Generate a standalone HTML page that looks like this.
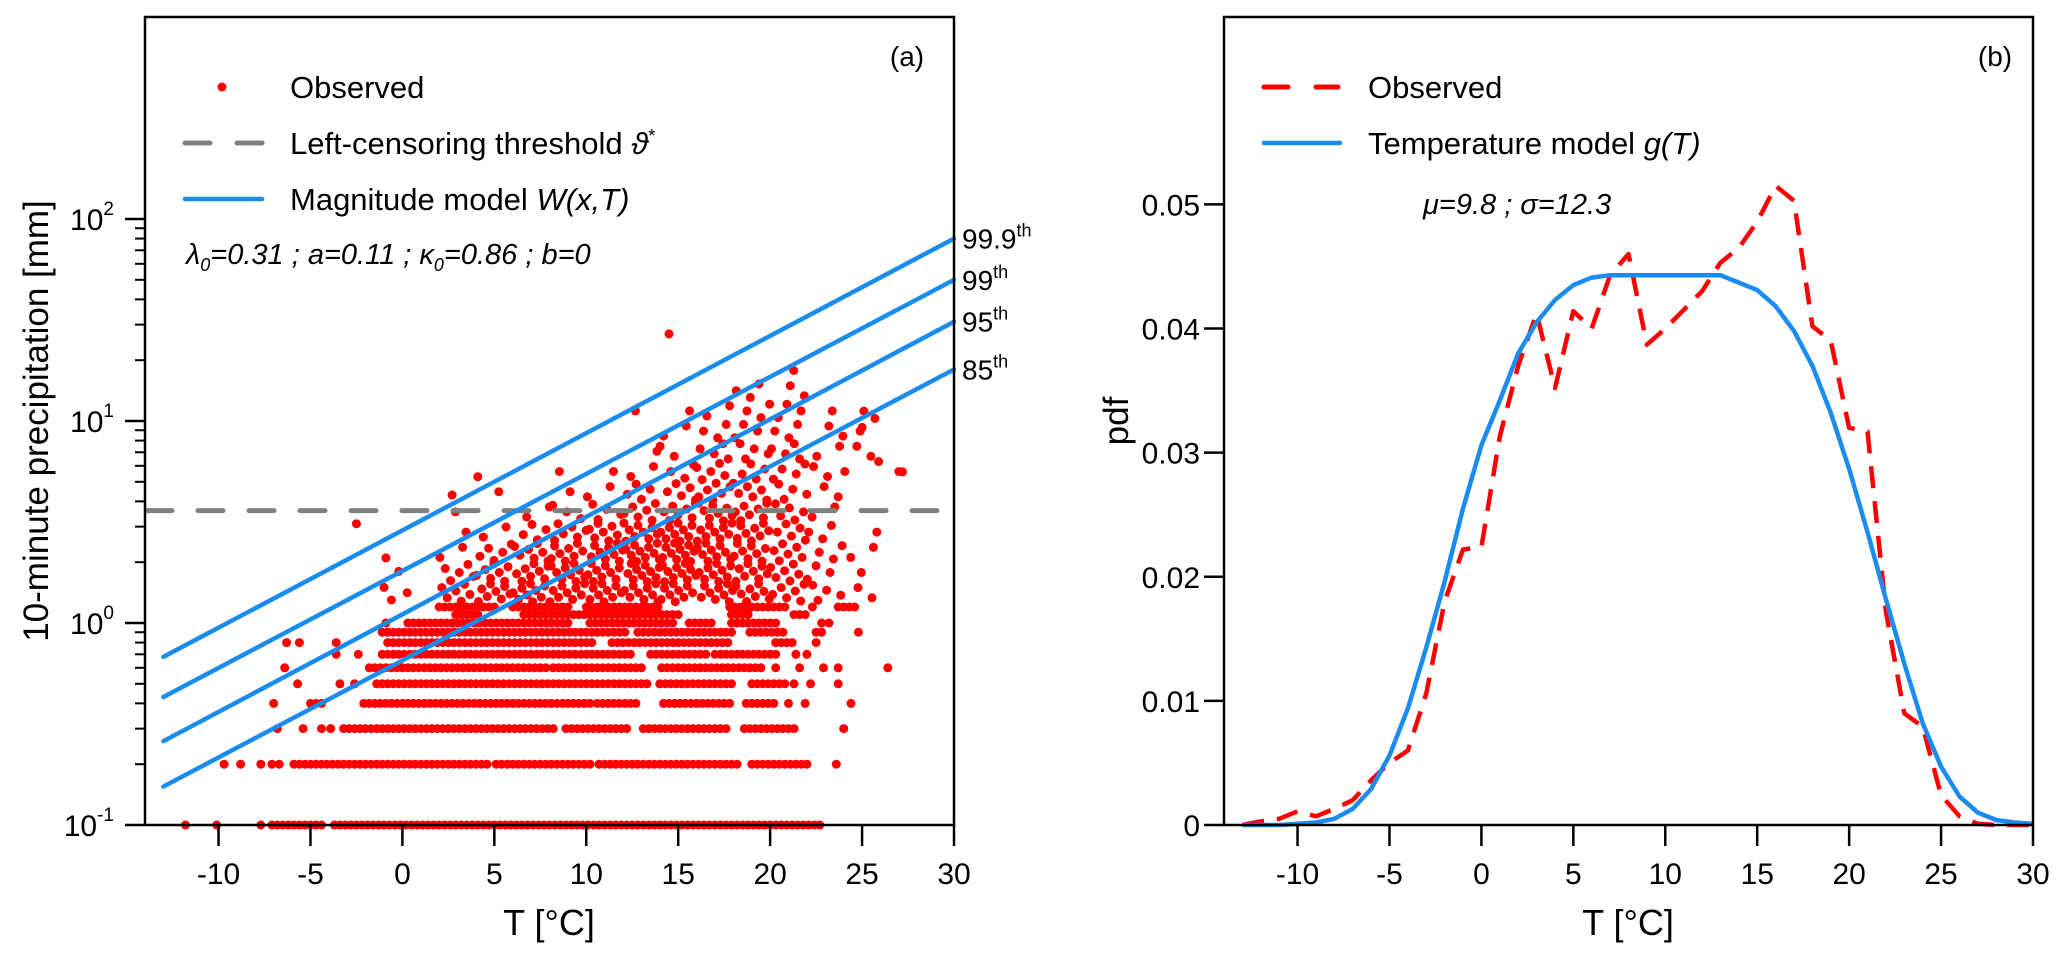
<!DOCTYPE html>
<html><head><meta charset="utf-8"><style>
html,body{margin:0;padding:0;background:#fff;}
svg{display:block;font-family:"Liberation Sans",sans-serif;}
</style></head><body>
<svg id="chart" width="2067" height="958" viewBox="0 0 2067 958" xmlns="http://www.w3.org/2000/svg">
<g id="pa"></g>
<g id="pb"></g>
</svg>
<script>
// ---------- Panel (a) data ----------
const xTicks = [-10,-5,0,5,10,15,20,25,30];
const yDecades = [-1,0,1,2];
const threshold = 3.6;
const pctNames = ["99.9","99","95","85"];
const pctStart = [0.68,0.43,0.26,0.155];   // value at T=-13
const pctEnd = [80,50,31,18];               // value at T=30
const rowValues = [0.1,0.2,0.3,0.4,0.5,0.6,0.7,0.8,0.9,1.0,1.1,1.2];
const rowSegments = [
 [[-11.8,-11.8],[-10.1,-10.1],[-7.7,-7.7],[-7.1,-4.3],[-3.7,22.8]],
 [[-9.7,-9.7],[-8.8,-8.8],[-7.7,-7.7],[-7.1,-7.1],[-6.7,-6.7],[-5.9,4.7],[5.1,10.2],[10.7,18.4],[19,22.1],[23.6,23.6]],
 [[-6.8,-6.8],[-5.4,-5.4],[-4.4,-4.4],[-3.9,-3.9],[-3.2,8.3],[8.9,12.4],[13.1,17.6],[18.6,21.3],[24,24]],
 [[-7,-7],[-5,-4.2],[-2.1,10.2],[10.6,12.8],[14.2,17.9],[18.7,20.3],[21,21],[21.9,21.9],[24.4,24.4]],
 [[-5.7,-5.7],[-3.4,-3.4],[-2.6,-2.6],[-1.4,13.4],[14,17.9],[19,20.8],[21.3,21.3],[22.2,22.2],[23.7,23.7]],
 [[-6.4,-6.4],[-1.8,7.8],[8.2,13],[14.1,19.6],[20.3,20.3],[21.6,21.6],[22.9,22.9],[23.7,23.7],[26.4,26.4]],
 [[-3.6,-3.6],[-2.4,-2.4],[-1.1,12.5],[13.5,16.6],[17,20.3],[21.4,21.4],[22,22]],
 [[-6.3,-6.3],[-5.6,-5.6],[-3.6,-3.6],[-0.8,10.4],[11.4,17.9],[20.3,21.3],[22.5,22.5]],
 [[-1.1,12.3],[12.8,17.9],[18.9,20.8],[22.5,23],[24.8,24.8]],
 [[-0.9,-0.9],[0.3,9],[10.2,14.7],[15.6,16.9],[17.9,20.5],[22.8,22.8],[23.2,23.2]],
 [[2.9,4.3],[6.6,15.2],[17.9,18.9],[21.3,22]],
 [[2,5],[6,9],[10,14.1],[17.8,20.8],[22.3,22.3],[23.7,24.6]]
];
// cloud density (counts) per 2°C column x 0.1 log10 band
const cloudT = [-4,-2,0,2,4,6,8,10,12,14,16,18,20,22,24,26];
const cloudLog = [1.2,1.1,1.0,0.9,0.8,0.7,0.6,0.5,0.4,0.3,0.2,0.1];
const cloudCounts = [
 [0,0,0,0,0,0,0,0,0,0,0,0,1,0,0,0],
 [0,0,0,0,0,0,0,0,0,0,0,3,2,0,0,0],
 [0,0,0,0,0,0,0,0,1,1,2,3,3,1,0,0],
 [0,0,0,0,0,0,0,0,0,2,3,3,3,2,1,0],
 [0,0,0,0,0,0,0,0,1,2,4,4,4,2,2,0],
 [0,0,0,0,0,0,1,1,2,3,5,4,4,2,1,1],
 [0,0,0,0,1,0,1,2,4,5,6,6,4,2,0,0],
 [0,0,0,1,0,2,3,4,6,7,8,7,5,2,0,0],
 [0,0,0,1,2,4,6,7,9,9,9,8,5,3,1,0],
 [0,0,0,2,5,7,8,9,10,10,9,8,6,3,2,0],
 [0,0,0,5,7,8,9,9,10,10,9,8,6,3,1,0],
 [0,0,1,6,8,9,9,9,9,9,9,8,6,4,2,0]
];
const outliers = [[14.5,27],[-2.5,3.1],[-0.9,2.1],[-0.2,1.8],[-1,1.5],[-0.6,1.3],[2.7,4.3],[4.1,5.3],[25.9,6.3],[27.2,5.6],[25,9.3],[25.7,10.3],[25.1,11.2]];

// ---------- Panel (b) data ----------
const pdfT = [-13,-12,-11,-10,-9,-8,-7,-6,-5,-4,-3,-2,-1,0,1,2,3,4,5,6,7,8,9,10,11,12,13,14,15,16,17,18,19,20,21,22,23,24,25,26,27,28,29,30];
const modelPdf = [0,0,0,0.0001,0.0002,0.0005,0.0013,0.0029,0.0056,0.0094,0.0143,0.0196,0.0255,0.0306,0.0342,0.038,0.0405,0.0423,0.0435,0.0441,0.0443,0.0443,0.0443,0.0443,0.0443,0.0443,0.0443,0.0437,0.0431,0.0418,0.0398,0.037,0.0332,0.0287,0.0236,0.0182,0.013,0.0082,0.0047,0.0023,0.001,0.0004,0.0002,0.0001];
const obsPdf = [0,0.0003,0.0005,0.0011,0.0007,0.0013,0.002,0.0036,0.005,0.006,0.0106,0.018,0.0222,0.0224,0.0313,0.037,0.0412,0.0352,0.0414,0.040,0.0443,0.046,0.0387,0.040,0.0415,0.043,0.0453,0.0465,0.0486,0.0515,0.0503,0.0402,0.039,0.032,0.0317,0.0172,0.009,0.0079,0.0024,0.0007,0.0001,0,0,0];
const pdfTicks = [0,0.01,0.02,0.03,0.04,0.05];

// ---------- helpers ----------
const NS="http://www.w3.org/2000/svg";
function mk(parent,tag,attrs,text){const e=document.createElementNS(NS,tag);for(const k in attrs)e.setAttribute(k,attrs[k]);if(text!==undefined)e.textContent=text;parent.appendChild(e);return e;}
const X0=-14,X1=30;
const BOT=825,TOP=17;
function xA(t){return 145+(t-X0)/(X1-X0)*(954-145);}
function xB(t){return 1224+(t-X0)/(X1-X0)*(2033-1224);}
function yA(v){return BOT-(Math.log10(v)+1)/4*(BOT-TOP);}
function yB(p){return BOT-p/0.0651*(BOT-TOP);}

// ---------- Panel (a) ----------
const pa=document.getElementById('pa');
const dots=mk(pa,'g',{fill:'#ff0000'});


rowValues.forEach((v,i)=>{rowSegments[i].forEach(s=>{for(let t=s[0];t<=s[1]+1e-9;t+=0.3){const c=mk(dots,'circle',{cx:xA(t).toFixed(1),cy:yA(v).toFixed(1),r:4.5});}});});
cloudCounts.forEach((row,ri)=>{row.forEach((n,ci)=>{for(let k=0;k<n;k++){const fx=((k*0.618034+ri*0.29+ci*0.47)%1);const fy=(k+0.5)/n;const t=cloudT[ci]+fx*2;const lv=cloudLog[ri]+fy*0.1;const c=mk(dots,'circle',{cx:xA(t).toFixed(1),cy:yA(Math.pow(10,lv)).toFixed(1),r:4.5});}});});
outliers.forEach(p=>{const c=mk(dots,'circle',{cx:xA(p[0]).toFixed(1),cy:yA(p[1]).toFixed(1),r:4.5});});

const thr=mk(pa,'line',{x1:147,x2:954,y1:yA(threshold),y2:yA(threshold),stroke:'#808080','stroke-width':5,'stroke-dasharray':'25 26','stroke-linecap':'round'});



pctNames.forEach((nm,i)=>{
 const l=mk(pa,'line',{x1:xA(-13),y1:yA(pctStart[i]),x2:xA(30),y2:yA(pctEnd[i]),stroke:'#1a8cf0','stroke-width':4.5,'stroke-linecap':'round'});
 
 
 const tx=mk(pa,'text',{x:962,y:yA(pctEnd[i])+10,'font-size':28});
 
 
 tx.textContent=nm;
 mk(tx,'tspan',{'font-size':18,dy:-12},'th');
});

const boxA=mk(pa,'rect',{x:145,y:17,width:809,height:808,fill:'none',stroke:'#000','stroke-width':2.5});


xTicks.forEach(t=>{
 mk(pa,'line',{x1:xA(t),x2:xA(t),y1:825,y2:846,stroke:'#000','stroke-width':2.5});
 const tl=mk(pa,'text',{x:xA(t),y:884,'font-size':30,'text-anchor':'middle'},String(t));
 
 
});
yDecades.forEach(d=>{
 const y=yA(Math.pow(10,d));
 mk(pa,'line',{x1:125,x2:145,y1:y,y2:y,stroke:'#000','stroke-width':2.5});
 const tl=mk(pa,'text',{x:114,y:y+11,'font-size':30,'text-anchor':'end'},'10');
 
 
 mk(tl,'tspan',{'font-size':19,dy:-15},String(d));
 if(d<2){for(let m=2;m<10;m++){const ym=yA(m*Math.pow(10,d));mk(pa,'line',{x1:135,x2:145,y1:ym,y2:ym,stroke:'#000','stroke-width':2});}}
});
let t1=mk(pa,'text',{x:549,y:935,'font-size':36,'text-anchor':'middle'},'T [°C]');

let t2=mk(pa,'text',{x:0,y:0,'font-size':35,'text-anchor':'middle',transform:'translate(48,421) rotate(-90)'},'10-minute precipitation [mm]');

let t3=mk(pa,'text',{x:907,y:66,'font-size':28,'text-anchor':'middle'},'(a)');

// legend a
const lgA=mk(pa,'g',{});

mk(lgA,'circle',{cx:222,cy:87,r:4.5,fill:'#ff0000'});
mk(lgA,'text',{x:290,y:98,'font-size':31},'Observed');
mk(lgA,'line',{x1:185,x2:262,y1:143,y2:143,stroke:'#808080','stroke-width':5,'stroke-dasharray':'25 27','stroke-linecap':'round'});
let lt=mk(lgA,'text',{x:290,y:154,'font-size':31},'Left-censoring threshold ');
mk(lt,'tspan',{'font-style':'italic'},'ϑ');mk(lt,'tspan',{'font-size':18,dy:-12},'*');
mk(lgA,'line',{x1:185,x2:262,y1:199,y2:199,stroke:'#1a8cf0','stroke-width':4.5,'stroke-linecap':'round'});
let lm=mk(lgA,'text',{x:290,y:210,'font-size':31},'Magnitude model ');
mk(lm,'tspan',{'font-style':'italic'},'W(x,T)');
let lp=mk(lgA,'text',{x:186,y:264,'font-size':29,'font-style':'italic'},'λ');
mk(lp,'tspan',{'font-size':18,dy:7},'0');mk(lp,'tspan',{dy:-7},'=0.31 ; a=0.11 ; κ');mk(lp,'tspan',{'font-size':18,dy:7},'0');mk(lp,'tspan',{dy:-7},'=0.86 ; b=0');

// ---------- Panel (b) ----------
const pb=document.getElementById('pb');
function pathFrom(vals){return vals.map((p,i)=>(i?'L':'M')+xB(pdfT[i]).toFixed(1)+','+yB(p).toFixed(1)).join(' ');}
const op=mk(pb,'path',{d:pathFrom(obsPdf),fill:'none',stroke:'#ff0000','stroke-width':4.5,'stroke-dasharray':'22 13','stroke-linejoin':'round'});

const mp=mk(pb,'path',{d:pathFrom(modelPdf),fill:'none',stroke:'#1a8cf0','stroke-width':4.5,'stroke-linejoin':'round'});

const boxB=mk(pb,'rect',{x:1224,y:17,width:809,height:808,fill:'none',stroke:'#000','stroke-width':2.5});

xTicks.forEach(t=>{
 mk(pb,'line',{x1:xB(t),x2:xB(t),y1:825,y2:846,stroke:'#000','stroke-width':2.5});
 const tl=mk(pb,'text',{x:xB(t),y:884,'font-size':30,'text-anchor':'middle'},String(t));
 
});
pdfTicks.forEach(p=>{
 mk(pb,'line',{x1:1204,x2:1224,y1:yB(p),y2:yB(p),stroke:'#000','stroke-width':2.5});
 const tl=mk(pb,'text',{x:1200,y:yB(p)+11,'font-size':30,'text-anchor':'end'},p===0?'0':p.toFixed(2));
 
});
let b1=mk(pb,'text',{x:1628,y:935,'font-size':36,'text-anchor':'middle'},'T [°C]');

let b2=mk(pb,'text',{x:0,y:0,'font-size':35,'text-anchor':'middle',transform:'translate(1128,421) rotate(-90)'},'pdf');

let b3=mk(pb,'text',{x:1995,y:66,'font-size':28,'text-anchor':'middle'},'(b)');

const lgB=mk(pb,'g',{});

mk(lgB,'line',{x1:1264,x2:1338,y1:87,y2:87,stroke:'#ff0000','stroke-width':5,'stroke-dasharray':'24 28','stroke-linecap':'round'});
mk(lgB,'text',{x:1368,y:98,'font-size':31},'Observed');
mk(lgB,'line',{x1:1264,x2:1340,y1:143,y2:143,stroke:'#1a8cf0','stroke-width':4.5,'stroke-linecap':'round'});
let bt=mk(lgB,'text',{x:1368,y:154,'font-size':31},'Temperature model ');
mk(bt,'tspan',{'font-style':'italic'},'g(T)');
mk(lgB,'text',{x:1423,y:214,'font-size':29,'font-style':'italic'},'μ=9.8 ; σ=12.3');
</script>
</body></html>
